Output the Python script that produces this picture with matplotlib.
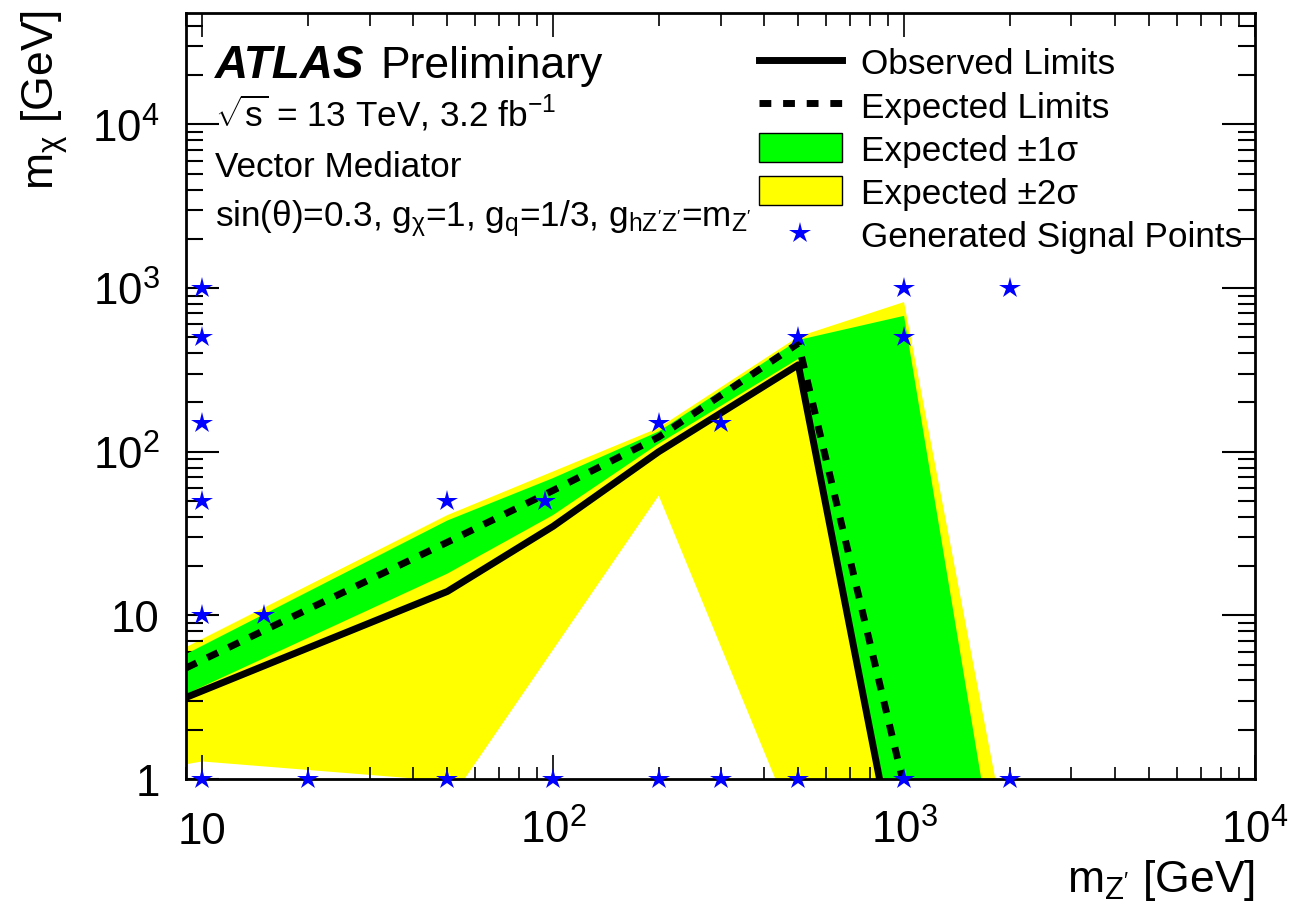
import numpy as np
import matplotlib
matplotlib.use('Agg')
import matplotlib.pyplot as plt
from matplotlib.lines import Line2D
from matplotlib.patches import Patch
from matplotlib.ticker import FixedLocator, FixedFormatter, LogLocator, NullFormatter

plt.rcParams['font.family'] = ['Liberation Sans', 'DejaVu Sans']
plt.rcParams['mathtext.fontset'] = 'custom'
plt.rcParams['mathtext.rm'] = 'Liberation Sans'
plt.rcParams['mathtext.it'] = 'Liberation Sans:italic'
plt.rcParams['mathtext.bf'] = 'Liberation Sans:bold'

# limits (m_Z' vs m_chi, GeV)
OBS_X = [9, 50, 100, 200, 500, 860]
OBS_Y = [3.15, 14, 35, 100, 340, 0.9]
EXP_X = [9, 50, 100, 200, 500, 1000]
EXP_Y = [4.77, 28, 58, 123, 460, 0.91]

# +-1 sigma band
S1_UP_X = [9, 50, 100, 200, 500, 1000, 1660]
S1_UP_Y = [5.8, 38, 69, 133, 482, 677, 1.0]
S1_LO_X = [9, 50, 100, 200, 500, 870]
S1_LO_Y = [3.3, 18, 41, 112, 370, 1.0]

# +-2 sigma band
S2_UP_X = [9, 50, 200, 500, 1000, 1820]
S2_UP_Y = [6.4, 41, 140, 505, 822, 1.0]
S2_LO_X = [9, 10, 50, 55, 200, 430, 1820]
S2_LO_Y = [1.23, 1.28, 0.97, 0.95, 54, 1.0, 1.0]

# generated signal grid
SIG_X = [10, 10, 10, 10, 10, 10, 15, 20, 50, 50, 95, 100, 200, 200,
         300, 300, 500, 500, 1000, 1000, 1000, 2000, 2000]
SIG_Y = [1, 10, 50, 150, 500, 1000, 10, 1, 1, 50, 50, 1, 1, 150,
         1, 150, 1, 500, 1, 500, 1000, 1, 1000]

X_TICKS = [10, 100, 1000, 10000]
X_TICKLABELS = ['10', r'$\mathregular{10^{2}}$', r'$\mathregular{10^{3}}$', r'$\mathregular{10^{4}}$']
Y_TICKS = [1, 10, 100, 1000, 10000]
Y_TICKLABELS = ['1', '10', r'$\mathregular{10^{2}}$', r'$\mathregular{10^{3}}$', r'$\mathregular{10^{4}}$']

GREEN = '#00ff00'
YELLOW = '#ffff00'
BLUE = '#0000ff'
DASH = (0, (1.7, 1.7))

fig = plt.figure(figsize=(12.99, 9.04), dpi=100)
ax = fig.add_axes([186/1299, 124/904, 1069/1299, 766/904])

ax.fill(S2_UP_X + S2_LO_X[::-1], S2_UP_Y + S2_LO_Y[::-1], color=YELLOW, lw=0, zorder=1)
ax.fill(S1_UP_X + S1_LO_X[::-1], S1_UP_Y + S1_LO_Y[::-1], color=GREEN, lw=0, zorder=2)
ax.plot(OBS_X, OBS_Y, color='k', lw=5, zorder=3)
ax.plot(EXP_X, EXP_Y, color='k', lw=5, ls=DASH, zorder=3)
ax.plot(SIG_X, SIG_Y, ls='none', marker='*', ms=16, color=BLUE, mew=0, clip_on=False, zorder=6)

ax.set_xscale('log')
ax.set_yscale('log')
ax.set_xlim(9, 1e4)
ax.set_ylim(1, 4.8e4)

ax.xaxis.set_major_locator(FixedLocator(X_TICKS))
ax.xaxis.set_major_formatter(FixedFormatter(X_TICKLABELS))
ax.yaxis.set_major_locator(FixedLocator(Y_TICKS))
ax.yaxis.set_major_formatter(FixedFormatter(Y_TICKLABELS))
for axis in (ax.xaxis, ax.yaxis):
    axis.set_minor_locator(LogLocator(base=10, subs=range(2, 10), numticks=20))
    axis.set_minor_formatter(NullFormatter())

ax.tick_params(which='both', direction='in', top=True, right=True, labelsize=31.5)
ax.tick_params(axis='x', which='major', length=17, width=1.2, pad=46)
ax.tick_params(axis='x', which='minor', length=9, width=1.2)
ax.tick_params(axis='y', which='major', length=23.5, width=1.5, pad=19)
ax.tick_params(axis='y', which='minor', length=12, width=1.5)
for lab in ax.get_xticklabels():
    lab.set_verticalalignment('baseline')
for sp in ax.spines.values():
    sp.set_linewidth(2)

ax.set_xlabel(r"m$_{\mathrm{Z'}}$ [GeV]", fontsize=32, loc='right')
ax.xaxis.set_label_coords(1.0, -0.146)
ax.xaxis.label.set_verticalalignment('baseline')
ax.set_ylabel(r"m$_{\mathrm{χ}}$ [GeV]", fontsize=32, loc='top')
ax.yaxis.set_label_coords(-0.124, 1.005)
ax.yaxis.label.set_verticalalignment('baseline')

tr = ax.transAxes
ax.text(0.027, 0.9164, 'ATLAS', fontsize=33, fontweight='bold', fontstyle='italic', transform=tr, va='baseline')
ax.text(0.182, 0.9164, 'Preliminary', fontsize=32, transform=tr, va='baseline')
ax.text(0.027, 0.8525, r'$\sqrt{\mathrm{s}}$ = 13 TeV, 3.2 fb$^{\mathrm{-1}}$', fontsize=25.3, transform=tr, va='baseline')
ax.text(0.027, 0.7872, 'Vector Mediator', fontsize=25.3, transform=tr, va='baseline')
ax.text(0.027, 0.7232, r"sin(θ)=0.3, g$_{\mathrm{χ}}$=1, g$_{\mathrm{q}}$=1/3, g$_{\mathrm{hZ'Z'}}$=m$_{\mathrm{Z'}}$",
        fontsize=25.3, transform=tr, va='baseline')

handles = [Line2D([], [], color='k', lw=5),
           Line2D([], [], color='k', lw=5, ls=DASH),
           Patch(facecolor=GREEN, edgecolor='k', lw=1),
           Patch(facecolor=YELLOW, edgecolor='k', lw=1),
           Line2D([], [], ls='none', marker='*', ms=16, color=BLUE, mew=0)]
labels = ['Observed Limits', 'Expected Limits', 'Expected ±1σ', 'Expected ±2σ', 'Generated Signal Points']
ax.legend(handles, labels, loc='upper left', bbox_to_anchor=(0.536, 0.956), frameon=False,
          fontsize=25.3, handlelength=2.36, handletextpad=0.53, labelspacing=0.27,
          handleheight=0.9, borderpad=0, borderaxespad=0)

fig.savefig('out.png', dpi=100)
